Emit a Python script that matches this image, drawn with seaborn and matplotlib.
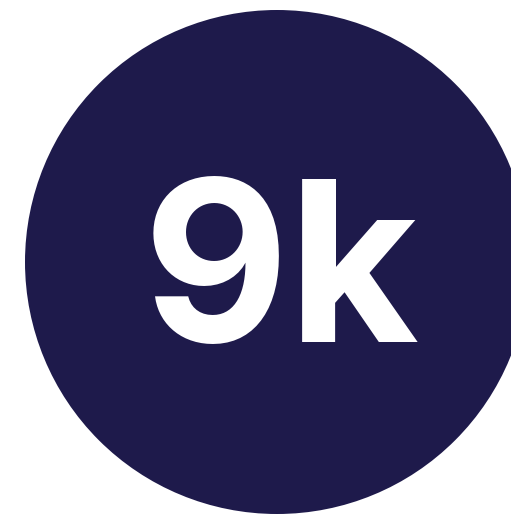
import matplotlib
matplotlib.use("Agg")
import matplotlib.pyplot as plt
from matplotlib.patches import Circle
import seaborn as sns

# =========================
# data
# =========================
values = [9000]
labels = ["9k"]

# =========================
# style
# =========================
sns.set_theme(style="white")
plt.rcParams['font.family'] = ['Inter', 'DejaVu Sans']

W, H = 511, 516
fig = plt.figure(figsize=(W / 100, H / 100), dpi=100)
ax = fig.add_axes([0, 0, 1, 1])
ax.set_xlim(0, W)
ax.set_ylim(H, 0)
ax.set_axis_off()

navy = "#1e1a4b"
ax.add_patch(Circle((277, 262), 252, color=navy, lw=0))

ax.text(281, 342, labels[0], color="white", fontsize=162, fontweight="bold",
        ha="center", va="baseline")

fig.savefig("out.png", dpi=100)
